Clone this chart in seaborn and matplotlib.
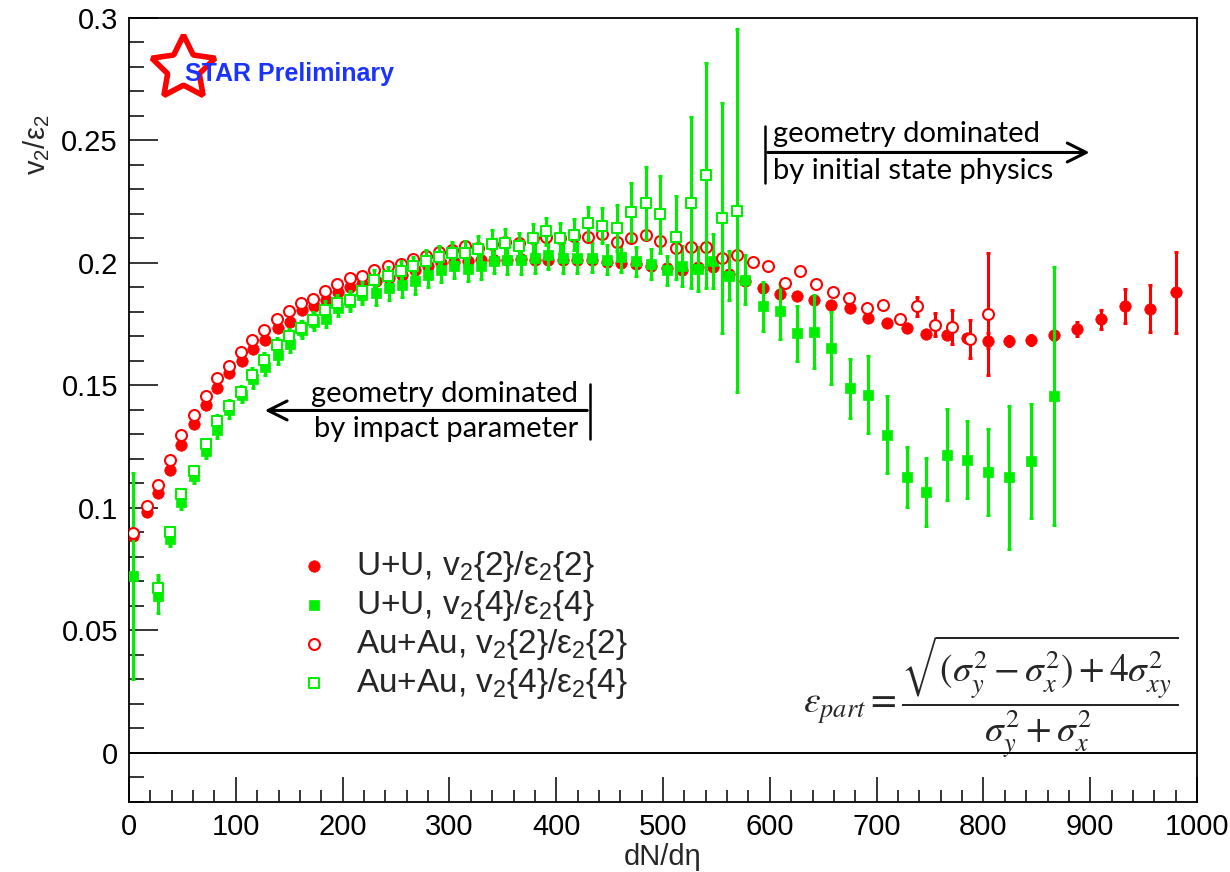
import matplotlib
matplotlib.use("Agg")
import matplotlib.pyplot as plt
from matplotlib.ticker import MultipleLocator, FuncFormatter
import seaborn as sns

# ---- U+U (dN/deta bins) ----
uu_x = [4.0, 16.6, 27.4, 38.4, 48.7, 60.9, 71.8, 82.7, 93.6, 105.5,
        116.4, 127.7, 139.8, 150.7, 162.3, 173.5, 184.5, 196.0, 206.9, 218.4,
        231.3, 243.4, 255.6, 267.8, 280.0, 292.1, 304.3, 317.4, 329.6, 341.8,
        354.0, 367.0, 380.1, 392.6, 406.4, 419.5, 433.5, 447.3, 460.4, 474.7,
        488.5, 503.3, 517.5, 532.3, 546.8, 562.1, 576.8, 593.4, 609.6, 625.5,
        641.4, 657.3, 675.1, 692.0, 709.7, 728.5, 746.3, 765.9, 784.6, 804.3,
        824.0, 844.6, 866.1, 887.6, 910.1, 932.6, 956.0, 980.3]
uu_v22 = [0.0885, 0.0984, 0.1061, 0.1157, 0.1258, 0.1344, 0.1422, 0.1488, 0.1549, 0.1601,
          0.1649, 0.1686, 0.1734, 0.1761, 0.1806, 0.1825, 0.1847, 0.1881, 0.1900, 0.1916,
          0.1927, 0.1939, 0.1951, 0.1971, 0.1986, 0.1998, 0.2004, 0.2010, 0.2012, 0.2012,
          0.2012, 0.2016, 0.2012, 0.2012, 0.2012, 0.2012, 0.2014, 0.2004, 0.1998, 0.1996,
          0.1988, 0.1980, 0.1971, 0.1984, 0.1984, 0.1955, 0.1926, 0.1898, 0.1874, 0.1864,
          0.1850, 0.1829, 0.1816, 0.1775, 0.1757, 0.1734, 0.1709, 0.1706, 0.1693, 0.1683,
          0.1683, 0.1686, 0.1704, 0.1731, 0.1770, 0.1825, 0.1813, 0.1880]
uu_v22_err = [0.001, 0.001, 0.001, 0.001, 0.001, 0.001, 0.001, 0.001, 0.001, 0.001,
              0.001, 0.001, 0.001, 0.001, 0.001, 0.001, 0.001, 0.001, 0.001, 0.001,
              0.001, 0.001, 0.001, 0.001, 0.001, 0.001, 0.001, 0.001, 0.001, 0.001,
              0.001, 0.001, 0.001, 0.001, 0.001, 0.001, 0.001, 0.001, 0.001, 0.001,
              0.001, 0.001, 0.001, 0.001, 0.001, 0.001, 0.001, 0.001, 0.001, 0.001,
              0.001, 0.001, 0.001, 0.001, 0.001, 0.001, 0.001, 0.001, 0.001, 0.003,
              0.002, 0.002, 0.002, 0.003, 0.004, 0.0068, 0.0096, 0.0164]

uu_v24_x = [4.0, 27.4, 38.4, 48.7, 60.9, 71.8, 82.7, 93.6, 105.5,
            116.4, 127.7, 139.8, 150.7, 162.3, 173.5, 184.5, 196.0, 206.9, 218.4,
            231.3, 243.4, 255.6, 267.8, 280.0, 292.1, 304.3, 317.4, 329.6, 341.8,
            354.0, 367.0, 380.1, 392.6, 406.4, 419.5, 433.5, 447.3, 460.4, 474.7,
            488.5, 503.3, 517.5, 532.3, 546.8, 562.1, 576.8, 593.4, 609.6, 625.5,
            641.4, 657.3, 675.1, 692.0, 709.7, 728.5, 746.3, 765.9, 784.6, 804.3,
            824.0, 844.6, 866.1]
uu_v24 = [0.0723, 0.0641, 0.0873, 0.1026, 0.1132, 0.1232, 0.1317, 0.1399, 0.1463,
          0.1526, 0.1577, 0.1624, 0.1671, 0.1727, 0.1761, 0.1772, 0.1818, 0.1840, 0.1869,
          0.1877, 0.1898, 0.1911, 0.1925, 0.1951, 0.1971, 0.1988, 0.1975, 0.1986, 0.2010,
          0.2014, 0.2014, 0.2020, 0.2034, 0.2020, 0.2020, 0.2022, 0.2014, 0.2025, 0.2007,
          0.1995, 0.1970, 0.1988, 0.1977, 0.2007, 0.1947, 0.1932, 0.1823, 0.1802, 0.1713,
          0.1720, 0.1652, 0.1488, 0.1463, 0.1299, 0.1126, 0.1064, 0.1217, 0.1197, 0.1146,
          0.1126, 0.1191, 0.1456]
uu_v24_err = [0.042, 0.007, 0.003, 0.003, 0.003, 0.003, 0.003, 0.003, 0.003,
              0.0035, 0.0035, 0.0035, 0.0035, 0.0035, 0.0035, 0.0035, 0.0035, 0.0035, 0.0035,
              0.005, 0.005, 0.005, 0.005, 0.005, 0.005, 0.005, 0.005, 0.005, 0.005,
              0.006, 0.006, 0.006, 0.006, 0.006, 0.006, 0.006, 0.006, 0.006, 0.006,
              0.006, 0.006, 0.008, 0.009, 0.011, 0.010, 0.010, 0.0101, 0.0113, 0.0113,
              0.0149, 0.0146, 0.012, 0.0157, 0.0157, 0.0124, 0.0138, 0.0186, 0.0157, 0.0176,
              0.0292, 0.0232, 0.0526]

# ---- Au+Au ----
auau_x = [4.0, 16.6, 27.4, 38.4, 48.7, 60.9, 71.8, 82.7, 93.6, 104.4,
          115.6, 126.4, 138.3, 149.8, 161.0, 172.0, 183.5, 195.0, 206.9, 218.4,
          229.4, 242.5, 254.2, 265.9, 278.1, 290.3, 302.4, 314.6, 327.1, 339.6,
          352.1, 364.7, 377.8, 390.4, 403.6, 416.7, 430.1, 442.9, 456.6, 470.0,
          484.1, 497.5, 512.6, 526.2, 540.3, 554.9, 569.0, 584.0, 598.6, 613.9,
          628.7, 643.3, 659.5, 674.4, 690.7, 705.7, 721.9, 738.1, 754.7, 770.9,
          787.5, 804.6]
auau_v22 = [0.0898, 0.1007, 0.1094, 0.1197, 0.1296, 0.1381, 0.1458, 0.1529, 0.1579, 0.1635,
            0.1686, 0.1727, 0.1770, 0.1805, 0.1836, 0.1854, 0.1886, 0.1915, 0.1939, 0.1948,
            0.1973, 0.1986, 0.1997, 0.2016, 0.2027, 0.2043, 0.2052, 0.2068, 0.2061, 0.2077,
            0.2084, 0.2080, 0.2100, 0.2104, 0.2102, 0.2109, 0.2105, 0.2117, 0.2086, 0.2100,
            0.2114, 0.2089, 0.2063, 0.2066, 0.2064, 0.2020, 0.2033, 0.2002, 0.1989, 0.1920,
            0.1968, 0.1915, 0.1881, 0.1859, 0.1818, 0.1827, 0.1772, 0.1823, 0.1747, 0.1738,
            0.1690, 0.1792]
auau_v22_err = [0.001, 0.001, 0.001, 0.001, 0.001, 0.001, 0.001, 0.001, 0.001, 0.001,
                0.001, 0.001, 0.001, 0.001, 0.001, 0.001, 0.001, 0.001, 0.001, 0.001,
                0.001, 0.001, 0.001, 0.001, 0.001, 0.001, 0.001, 0.001, 0.001, 0.001,
                0.001, 0.001, 0.001, 0.001, 0.001, 0.001, 0.001, 0.001, 0.001, 0.001,
                0.001, 0.001, 0.001, 0.001, 0.001, 0.001, 0.001, 0.001, 0.001, 0.001,
                0.001, 0.001, 0.001, 0.001, 0.001, 0.001, 0.001, 0.0039, 0.0047, 0.0068,
                0.0078, 0.025]

auau_v24_x = [27.4, 38.4, 48.7, 60.9, 71.8, 82.7, 93.6, 104.4,
              115.6, 126.4, 138.3, 149.8, 161.0, 172.0, 183.5, 195.0, 206.9, 218.4,
              229.4, 242.5, 254.2, 265.9, 278.1, 290.3, 302.4, 314.6, 327.1, 339.6,
              352.1, 364.7, 377.8, 390.4, 403.6, 416.7, 430.1, 442.9, 456.6, 470.0,
              484.1, 497.5, 512.6, 526.2, 540.3, 554.9, 569.0]
auau_v24 = [0.0675, 0.0900, 0.1057, 0.1149, 0.1262, 0.1354, 0.1415, 0.1474, 0.1542, 0.1604,
            0.1665, 0.1700, 0.1734, 0.1768, 0.1809, 0.1836, 0.1850, 0.1884, 0.1932, 0.1945,
            0.1966, 0.1986, 0.2009, 0.2023, 0.2041, 0.2041, 0.2057, 0.2079, 0.2082, 0.2068,
            0.2100, 0.2130, 0.2102, 0.2116, 0.2162, 0.2152, 0.2143, 0.2208, 0.2245, 0.2198,
            0.2105, 0.2246, 0.2358, 0.2184, 0.2214]
auau_v24_err = [0.005, 0.002, 0.002, 0.002, 0.002, 0.0025, 0.0025, 0.0025, 0.003, 0.003,
                0.003, 0.003, 0.003, 0.003, 0.0035, 0.0035, 0.0035, 0.004, 0.004, 0.004,
                0.004, 0.004, 0.0045, 0.0045, 0.0045, 0.005, 0.0055, 0.0055, 0.0055, 0.0055,
                0.006, 0.0055, 0.006, 0.0065, 0.0068, 0.0071, 0.0093, 0.012, 0.0146, 0.0157,
                0.017, 0.035, 0.046, 0.047, 0.074]

RED = "#ff0000"
GREEN = "#00ee00"

sns.set_theme(style="ticks")
plt.rcParams["font.family"] = ["Liberation Sans", "DejaVu Sans"]
plt.rcParams["mathtext.fontset"] = "custom"
plt.rcParams["mathtext.rm"] = "Liberation Sans"
plt.rcParams["mathtext.it"] = "Liberation Sans:italic"
plt.rcParams["mathtext.bf"] = "Liberation Sans:bold"

fig = plt.figure(figsize=(12.3, 8.72), dpi=100)
ax = fig.add_axes([0.1049, 0.0803, 0.8683, 0.8991])

# label, x, y, err, marker, colour, filled, marker size
series = [
    ("U+U, v$_2${2}/ε$_2${2}", uu_x, uu_v22, uu_v22_err, "o", RED, True, 68),
    ("U+U, v$_2${4}/ε$_2${4}", uu_v24_x, uu_v24, uu_v24_err, "s", GREEN, True, 56),
    ("Au+Au, v$_2${2}/ε$_2${2}", auau_x, auau_v22, auau_v22_err, "o", RED, False, 62),
    ("Au+Au, v$_2${4}/ε$_2${4}", auau_v24_x, auau_v24, auau_v24_err, "s", GREEN, False, 56),
]

handles = []
for i, (label, x, y, err, marker, color, filled, size) in enumerate(series):
    z = 3 + 2 * i
    ax.errorbar(x, y, yerr=err, fmt="none", ecolor=color, elinewidth=2.2,
                capsize=1.5, capthick=2.2, zorder=z)
    if filled:
        sns.scatterplot(x=x, y=y, ax=ax, marker=marker, s=size, color=color,
                        edgecolor=color, linewidth=0.5, zorder=z + 1, label=label)
    else:
        sns.scatterplot(x=x, y=y, ax=ax, marker=marker, s=size, facecolor="white",
                        edgecolor=color, linewidth=1.5, zorder=z + 1, label=label)
    handles.append(ax.collections[-1])

ax.axhline(0, color="black", lw=1.4, zorder=1)

ax.set_xlim(0, 1000)
ax.set_ylim(-0.02, 0.3)
ax.xaxis.set_major_locator(MultipleLocator(100))
ax.xaxis.set_minor_locator(MultipleLocator(20))
ax.yaxis.set_major_locator(MultipleLocator(0.05))
ax.yaxis.set_minor_locator(MultipleLocator(0.01))
ax.yaxis.set_major_formatter(FuncFormatter(lambda v, p: f"{v:g}"))
ax.tick_params(which="both", direction="in", top=False, right=False, width=1.1, colors="black")
ax.tick_params(axis="y", which="major", length=21, labelsize=21, pad=8)
ax.tick_params(axis="y", which="minor", length=11)
ax.tick_params(axis="x", which="major", length=18, labelsize=21, pad=8)
ax.tick_params(axis="x", which="minor", length=9)
for sp in ax.spines.values():
    sp.set_linewidth(1.3)
    sp.set_color("black")

ax.set_xlabel("dN/dη", fontsize=21)
ax.xaxis.set_label_coords(0.5, -0.052)
ax.set_ylabel("v$_2$/ε$_2$", fontsize=21)
ax.yaxis.set_label_coords(-0.072, 0.838)

ax.legend(handles=handles, labels=[s[0] for s in series], loc="upper left",
          bbox_to_anchor=(0.142, 0.344), frameon=False, fontsize=24,
          handletextpad=0.75, labelspacing=0.12, borderpad=0, handlelength=1.0,
          markerscale=1.0)

# arrows and notes
ann_font = dict(fontsize=21, family=["Lato", "DejaVu Sans"], color="black")
ax.plot([431.6, 431.6], [0.1283, 0.1508], color="black", lw=1.8)
ax.annotate("", xy=(124.5, 0.1398), xytext=(431.6, 0.1398),
            arrowprops=dict(arrowstyle="->", lw=2.2, color="black", mutation_scale=34))
ax.text(420.4, 0.1467, "geometry dominated", ha="right", va="center", **ann_font)
ax.text(420.4, 0.1324, "by impact parameter", ha="right", va="center", **ann_font)

ax.plot([595.5, 595.5], [0.2328, 0.2561], color="black", lw=1.8)
ax.annotate("", xy=(902.0, 0.2451), xytext=(595.5, 0.2451),
            arrowprops=dict(arrowstyle="->", lw=2.2, color="black", mutation_scale=34))
ax.text(603, 0.2525, "geometry dominated", ha="left", va="center", **ann_font)
ax.text(603, 0.2377, "by initial state physics", ha="left", va="center", **ann_font)

ax.text(0.807, 0.133,
        r"$\varepsilon_{part} = \dfrac{\sqrt{(\sigma_y^2-\sigma_x^2)+4\sigma_{xy}^2}}{\sigma_y^2+\sigma_x^2}$",
        transform=ax.transAxes, ha="center", va="center", fontsize=27,
        math_fontfamily="stix")

# STAR Preliminary logo
ax.plot([0.0506], [0.936], marker=(5, 1, 0), ms=48, mfc="white", mec=RED, mew=4,
        transform=ax.transAxes, zorder=12)
ax.text(0.0524, 0.929, "STAR Preliminary", transform=ax.transAxes, color="#1a33ff",
        fontweight="bold", fontsize=18, ha="left", va="center", zorder=13)

fig.savefig("out.png", dpi=100)
